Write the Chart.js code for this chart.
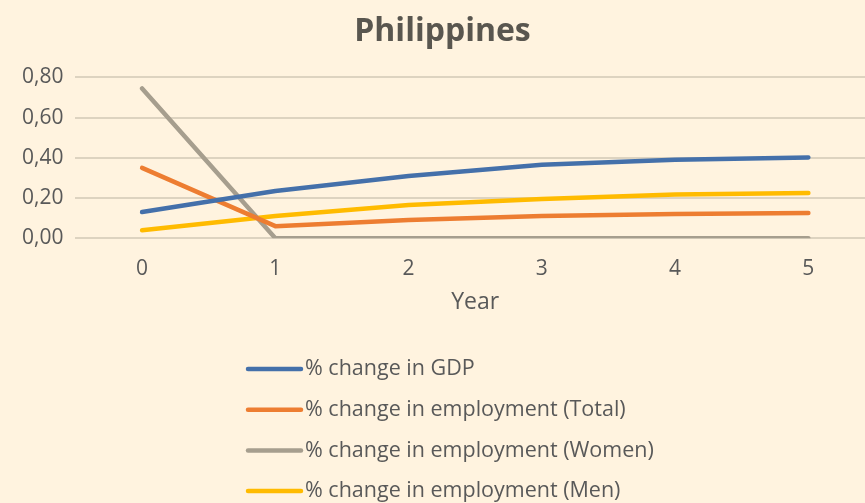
<!DOCTYPE html>
<html>
<head>
<meta charset="utf-8">
<script src="https://cdn.jsdelivr.net/npm/chart.js@4"></script>
<style>
  html, body { margin: 0; padding: 0; background: #fff3df; overflow: hidden; }
  #wrap { width: 894px; height: 503px; }
</style>
</head>
<body>
<div id="wrap"><canvas id="chart"></canvas></div>
<script>
const years = ["0", "1", "2", "3", "4", "5"];
const gdpChange = [0.13, 0.235, 0.31, 0.365, 0.39, 0.402];
const empTotal = [0.35, 0.06, 0.09, 0.11, 0.12, 0.125];
const empWomen = [0.745, 0, 0, 0, 0, 0];
const empMen = [0.04, 0.11, 0.165, 0.195, 0.217, 0.225];
const yTicks = [0, 0.2, 0.4, 0.6, 0.8];

const FONT = "Open Sans";
const textColor = "#595959";

function ds(label, data, color) {
  return {
    label,
    data,
    borderColor: color,
    backgroundColor: color,
    borderWidth: 4.5,
    borderCapStyle: "round",
    borderJoinStyle: "round",
    pointRadius: 0,
    tension: 0,
  };
}

// legend drawn as a vertical list under the axis
const listLegend = {
  id: "listLegend",
  afterDraw(chart) {
    const ctx = chart.ctx;
    const x0 = 248, lineLen = 53, rowGap = 40.7;
    let y = 369;
    ctx.save();
    ctx.font = "21.5px '" + FONT + "'";
    ctx.textBaseline = "middle";
    ctx.fillStyle = textColor;
    chart.data.datasets.forEach((d) => {
      ctx.strokeStyle = d.borderColor;
      ctx.lineWidth = 4.5;
      ctx.lineCap = "round";
      ctx.beginPath();
      ctx.moveTo(x0, y);
      ctx.lineTo(x0 + lineLen, y);
      ctx.stroke();
      ctx.fillText(d.label, x0 + lineLen + 4, y);
      y += rowGap;
    });
    ctx.restore();
  },
};

new Chart(document.getElementById("chart"), {
  type: "line",
  data: {
    labels: years,
    datasets: [
      ds("% change in GDP", gdpChange, "#4470aa"),
      ds("% change in employment (Total)", empTotal, "#ed7d31"),
      ds("% change in employment (Women)", empWomen, "#a69e8e"),
      ds("% change in employment (Men)", empMen, "#ffbb00"),
    ],
  },
  options: {
    responsive: true,
    maintainAspectRatio: false,
    animation: false,
    layout: { padding: { left: 10, right: 19, top: 0, bottom: 187 } },
    plugins: {
      legend: { display: false },
      tooltip: { enabled: false },
      title: {
        display: true,
        text: "Philippines",
        color: "#59564f",
        font: { family: FONT, size: 32, weight: "bold" },
        padding: { top: 13, bottom: 26 },
      },
    },
    scales: {
      x: {
        offset: true,
        grid: { display: false, drawTicks: false },
        border: { display: false },
        ticks: { color: textColor, font: { family: FONT, size: 21 }, padding: 18 },
        title: {
          display: true,
          text: "Year",
          color: textColor,
          font: { family: FONT, size: 23 },
          padding: { top: -11, bottom: 0 },
        },
      },
      y: {
        min: 0,
        max: 0.8,
        afterBuildTicks: (axis) => {
          axis.ticks = yTicks.map((v) => ({ value: v }));
        },
        grid: { color: "#ddd3c0", lineWidth: 2, drawTicks: false },
        border: { display: false },
        ticks: {
          color: textColor,
          font: { family: FONT, size: 21 },
          padding: 12,
          callback: (v) => Number(v).toFixed(2).replace(".", ","),
        },
      },
    },
  },
  plugins: [listLegend],
});
</script>
</body>
</html>
